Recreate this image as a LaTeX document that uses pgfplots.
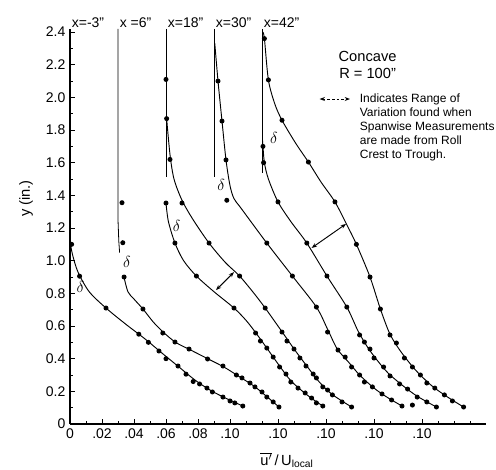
\documentclass[border=0pt]{standalone}
\usepackage{pgfplots}
\pgfplotsset{compat=1.18}
\usepackage{fontspec}
\setmainfont{Liberation Sans}
\usetikzlibrary{arrows.meta}

\begin{document}
\begin{tikzpicture}
% page frame: 496x470 px at 0.75pt per px, axis origin 70px from left, 46px from bottom
\path[use as bounding box] (-52.5pt,-34.5pt) rectangle (319.5pt,318pt);
\begin{axis}[
  scale only axis,
  width=312pt, height=296.4pt,
  xmin=0, xmax=0.26,
  ymin=0, ymax=2.42,
  axis x line=bottom, axis y line=left,
  axis line style={-, line width=0.9pt},
  tick align=inside,
  major tick length=4pt, minor tick length=2.2pt,
  every tick/.style={black, line width=0.6pt},
  xtick={0,0.02,0.04,0.06,0.08,0.10,0.13,0.16,0.19,0.22},
  xticklabels={0,.02,.04,.06,.08,.10,.10,.10,.10,.10},
  minor xtick={0.01,0.03,0.05,0.07,0.09,0.11,0.12,0.14,0.15,0.17,0.18,0.20,0.21,0.23,0.24,0.25},
  ytick={0,0.2,...,2.41},
  yticklabels={0,0.2,0.4,0.6,0.8,1.0,1.2,1.4,1.6,1.8,2.0,2.2,2.4},
  minor y tick num=1,
  tick label style={font=\fontsize{10.5}{12}\selectfont},
  /pgf/number format/assume math mode=true,
  clip=false,
  every axis plot/.append style={black, line width=0.7pt},
]
% ---- free-stream vertical lines
\addplot[no marks, line width=0.6pt] coordinates {(0.030,2.42) (0.030,1.25) (0.0305,1.12) (0.031,1.05)};
\addplot[no marks, line width=0.6pt] coordinates {(0.060,2.42) (0.060,1.51)};
\addplot[no marks, line width=0.6pt] coordinates {(0.090,2.42) (0.090,1.51)};
\addplot[no marks, line width=0.6pt] coordinates {(0.120,2.42) (0.120,1.54)};

% ---- x = -3"
\addplot[smooth, no marks] coordinates {(0,1.12) (0.0015,1.04) (0.005,0.93) (0.012,0.81) (0.0225,0.71) (0.035,0.61) (0.047,0.52) (0.058,0.43) (0.068,0.35) (0.078,0.27) (0.088,0.205) (0.098,0.155) (0.108,0.11)};
\addplot[only marks, mark=*, mark size=1.5pt] coordinates {(0.001,1.10) (0.006,0.905) (0.0225,0.71) (0.043,0.55) (0.049,0.50) (0.0556,0.447) (0.060,0.40) (0.0675,0.355) (0.0725,0.305) (0.077,0.26) (0.081,0.245) (0.0856,0.22) (0.089,0.196) (0.0956,0.165) (0.100,0.141) (0.103,0.129) (0.108,0.11)};

% ---- x = 6"
\addplot[smooth, no marks] coordinates {(0.0335,0.91) (0.0362,0.81) (0.040,0.765) (0.0456,0.704) (0.052,0.625) (0.058,0.565) (0.066,0.50) (0.075,0.455) (0.086,0.40) (0.096,0.35) (0.105,0.295) (0.115,0.232) (0.123,0.168) (0.1306,0.104)};
\addplot[only marks, mark=*, mark size=1.5pt] coordinates {(0.0325,1.355) (0.033,1.11) (0.0338,0.90) (0.0456,0.704) (0.058,0.557) (0.0656,0.502) (0.0744,0.459) (0.086,0.398) (0.0956,0.355) (0.104,0.30) (0.1075,0.282) (0.1125,0.251) (0.1156,0.227) (0.12,0.196) (0.123,0.165) (0.127,0.135) (0.1306,0.104)};

% ---- x = 18" (two curves)
\addplot[smooth, no marks] coordinates {(0.060,1.353) (0.0615,1.24) (0.0656,1.108) (0.071,1.0) (0.079,0.906) (0.090,0.81) (0.1025,0.71) (0.110,0.635) (0.116,0.56) (0.123,0.465) (0.131,0.355) (0.138,0.265) (0.146,0.195) (0.152,0.15) (0.158,0.11)};
\addplot[only marks, mark=*, mark size=1.5pt] coordinates {(0.060,1.353) (0.0656,1.108) (0.079,0.906) (0.1025,0.71) (0.116,0.557) (0.119,0.508) (0.123,0.465) (0.127,0.41) (0.131,0.349) (0.135,0.306) (0.138,0.257) (0.1425,0.22) (0.147,0.19) (0.151,0.159) (0.154,0.129) (0.158,0.11)};
\addplot[smooth, no marks] coordinates {(0.0604,1.87) (0.0625,1.65) (0.065,1.5) (0.070,1.37) (0.077,1.25) (0.0869,1.108) (0.097,0.99) (0.106,0.906) (0.115,0.80) (0.122,0.71) (0.1325,0.565) (0.140,0.46) (0.148,0.355) (0.156,0.255) (0.164,0.18) (0.176,0.104)};
\addplot[only marks, mark=*, mark size=1.5pt] coordinates {(0.060,2.11) (0.0604,1.87) (0.0625,1.62) (0.070,1.353) (0.0869,1.108) (0.106,0.906) (0.122,0.71) (0.1325,0.563) (0.1356,0.508) (0.14,0.459) (0.1437,0.404) (0.1475,0.355) (0.152,0.306) (0.154,0.282) (0.158,0.227) (0.161,0.208) (0.164,0.178) (0.17,0.135) (0.176,0.104)};

% ---- x = 30"
\addplot[smooth, no marks] coordinates {(0.0905,2.33) (0.0925,2.10) (0.095,1.855) (0.0975,1.617) (0.100,1.46) (0.1025,1.38) (0.107,1.32) (0.123,1.108) (0.139,0.906) (0.154,0.716) (0.161,0.58) (0.167,0.46) (0.174,0.38) (0.181,0.30) (0.190,0.22) (0.198,0.165) (0.2075,0.11)};
\addplot[only marks, mark=*, mark size=1.5pt] coordinates {(0.0925,2.10) (0.095,1.855) (0.0975,1.617) (0.098,1.37) (0.123,1.108) (0.139,0.906) (0.154,0.716) (0.161,0.563) (0.1675,0.453) (0.172,0.41) (0.176,0.349) (0.181,0.30) (0.184,0.257) (0.189,0.227) (0.195,0.184) (0.201,0.147) (0.2075,0.11) (0.214,0.116)};

% ---- x = 42" (two curves)
\addplot[smooth, no marks] coordinates {(0.1203,1.74) (0.1206,1.70) (0.1215,1.60) (0.124,1.50) (0.130,1.36) (0.138,1.24) (0.148,1.108) (0.1606,0.906) (0.173,0.716) (0.180,0.57) (0.186,0.47) (0.192,0.39) (0.199,0.31) (0.208,0.235) (0.217,0.17) (0.229,0.104)};
\addplot[only marks, mark=*, mark size=1.5pt] coordinates {(0.1206,1.70) (0.121,1.60) (0.130,1.36) (0.148,1.108) (0.1606,0.906) (0.173,0.716) (0.181,0.545) (0.184,0.502) (0.1875,0.459) (0.190,0.404) (0.196,0.349) (0.200,0.294) (0.206,0.245) (0.211,0.214) (0.217,0.165) (0.223,0.135) (0.229,0.104)};
\addplot[smooth, no marks] coordinates {(0.1205,2.40) (0.1215,2.36) (0.124,2.107) (0.128,1.96) (0.1325,1.86) (0.141,1.72) (0.149,1.604) (0.157,1.48) (0.1656,1.36) (0.173,1.22) (0.179,1.10) (0.1875,0.90) (0.194,0.704) (0.200,0.55) (0.207,0.44) (0.216,0.33) (0.226,0.235) (0.236,0.165) (0.246,0.104)};
\addplot[only marks, mark=*, mark size=1.5pt] coordinates {(0.1215,2.36) (0.124,2.107) (0.1325,1.86) (0.149,1.604) (0.1656,1.36) (0.179,1.10) (0.1875,0.90) (0.194,0.704) (0.200,0.545) (0.204,0.496) (0.209,0.404) (0.214,0.349) (0.219,0.30) (0.223,0.251) (0.228,0.22) (0.234,0.178) (0.239,0.141) (0.246,0.104)};

% ---- range-of-variation arrows
\draw[{Stealth[length=4pt]}-{Stealth[length=4pt]}, line width=0.7pt] (0.09125,0.82) -- (0.1025,0.93);
\draw[{Stealth[length=4pt]}-{Stealth[length=4pt]}, line width=0.7pt] (0.151,1.078) -- (0.1725,1.225);
\draw[{Stealth[length=4pt]}-{Stealth[length=4pt]}, line width=0.7pt, dash pattern=on 2pt off 1.5pt] (0.156,1.99) -- (0.175,1.99);

% ---- station labels
\node[anchor=base west, font=\fontsize{10.5}{12}\selectfont, inner sep=0pt] at (0.001,2.425) {x=-3"};
\node[anchor=base west, font=\fontsize{10.5}{12}\selectfont, inner sep=0pt] at (0.031,2.425) {x =6"};
\node[anchor=base west, font=\fontsize{10.5}{12}\selectfont, inner sep=0pt] at (0.061,2.425) {x=18"};
\node[anchor=base west, font=\fontsize{10.5}{12}\selectfont, inner sep=0pt] at (0.091,2.425) {x=30"};
\node[anchor=base west, font=\fontsize{10.5}{12}\selectfont, inner sep=0pt] at (0.121,2.425) {x=42"};

% ---- delta marks
\node[font=\large] at (0.0065,0.84) {$\delta$};
\node[font=\large] at (0.0355,0.99) {$\delta$};
\node[font=\large] at (0.0666,1.21) {$\delta$};
\node[font=\large] at (0.0945,1.465) {$\delta$};
\node[font=\large] at (0.1275,1.75) {$\delta$};

% ---- annotations
\node[font=\fontsize{11}{13}\selectfont, align=center] at (0.186,2.20) {Concave\\R = 100"};
\node[anchor=north west, font=\fontsize{9}{10.5}\selectfont, align=left, inner sep=0pt] at (0.181,2.025)
  {Indicates Range of\\Variation found when\\Spanwise Measurements\\are made from Roll\\Crest to Trough.};

% ---- axis titles
\node[rotate=90, font=\fontsize{11}{13}\selectfont] at ([xshift=-33pt]axis cs:0,1.38) {y (in.)};
\node[font=\fontsize{11}{13}\selectfont] at ([yshift=-27pt]axis cs:0.1356,0) {$\overline{\mbox{u}'}$\,/\,U\textsubscript{local}};
\end{axis}
\end{tikzpicture}
\end{document}
